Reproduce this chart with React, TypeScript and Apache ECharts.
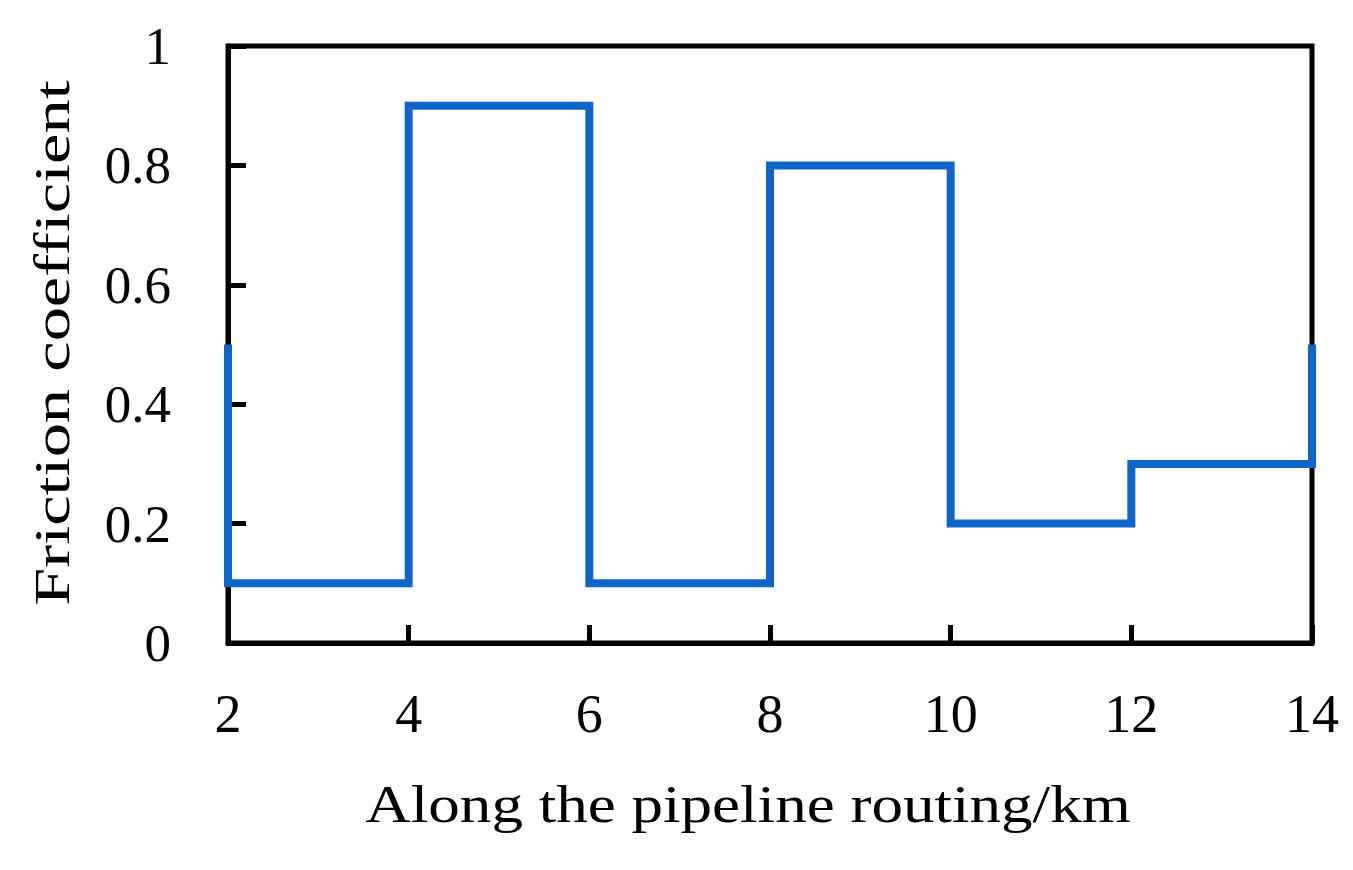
import React, { useEffect, useRef } from "react";
import * as echarts from "echarts";

const xValues = [2, 2, 4, 4, 6, 6, 8, 8, 10, 10, 12, 12, 14, 14];
const yValues = [0.5, 0.1, 0.1, 0.9, 0.9, 0.1, 0.1, 0.8, 0.8, 0.2, 0.2, 0.3, 0.3, 0.5];
const xName = "Along the pipeline routing/km";
const yName = "Friction coefficient";

export default function App() {
  const ref = useRef<HTMLDivElement>(null);
  useEffect(() => {
    if (!ref.current) return;
    const chart = echarts.init(ref.current, undefined, { renderer: "svg" });
    const font = "'Liberation Serif', 'Times New Roman', serif";
    chart.setOption({
      animation: false,
      backgroundColor: "#ffffff",
      grid: {
        left: 228,
        top: 46,
        right: 41,
        bottom: 227,
        show: true,
        borderColor: "#000",
        borderWidth: 5,
        backgroundColor: "transparent",
      },
      xAxis: {
        type: "value",
        min: 2,
        max: 14,
        interval: 2,
        axisLine: { show: true, lineStyle: { color: "#000", width: 5 } },
        axisTick: { show: true, inside: true, length: 18, lineStyle: { color: "#000", width: 5 } },
        axisLabel: { fontFamily: font, fontSize: 54, color: "#000", margin: 44 },
        splitLine: { show: false },
      },
      yAxis: {
        type: "value",
        min: 0,
        max: 1,
        interval: 0.2,
        axisLine: { show: true, lineStyle: { color: "#000", width: 5 } },
        axisTick: { show: true, inside: true, length: 18, lineStyle: { color: "#000", width: 5 } },
        axisLabel: {
          fontFamily: font,
          fontSize: 53,
          color: "#000",
          margin: 57,
          formatter: (v: number) => String(Number(v.toFixed(1))),
        },
        splitLine: { show: false },
      },
      graphic: [
        {
          type: "text",
          x: 748,
          y: 804,
          scaleX: 1.19,
          style: {
            text: xName,
            font: `53px ${font}`,
            fill: "#000",
            textAlign: "center",
            textVerticalAlign: "middle",
          },
        },
        {
          type: "text",
          x: 52,
          y: 343,
          rotation: Math.PI / 2,
          scaleX: 1.37,
          style: {
            text: yName,
            font: `50px ${font}`,
            fill: "#000",
            textAlign: "center",
            textVerticalAlign: "middle",
          },
        },
      ],
      series: [
        {
          type: "line",
          data: xValues.map((x, i) => [x, yValues[i]]),
          showSymbol: false,
          lineStyle: { color: "#0f66c8", width: 8, join: "miter", cap: "butt" },
          itemStyle: { color: "#0f66c8" },
        },
      ],
    });
    return () => chart.dispose();
  }, []);
  return <div ref={ref} style={{ width: 1353, height: 870, position: "absolute", left: 0, top: 0 }} />;
}
